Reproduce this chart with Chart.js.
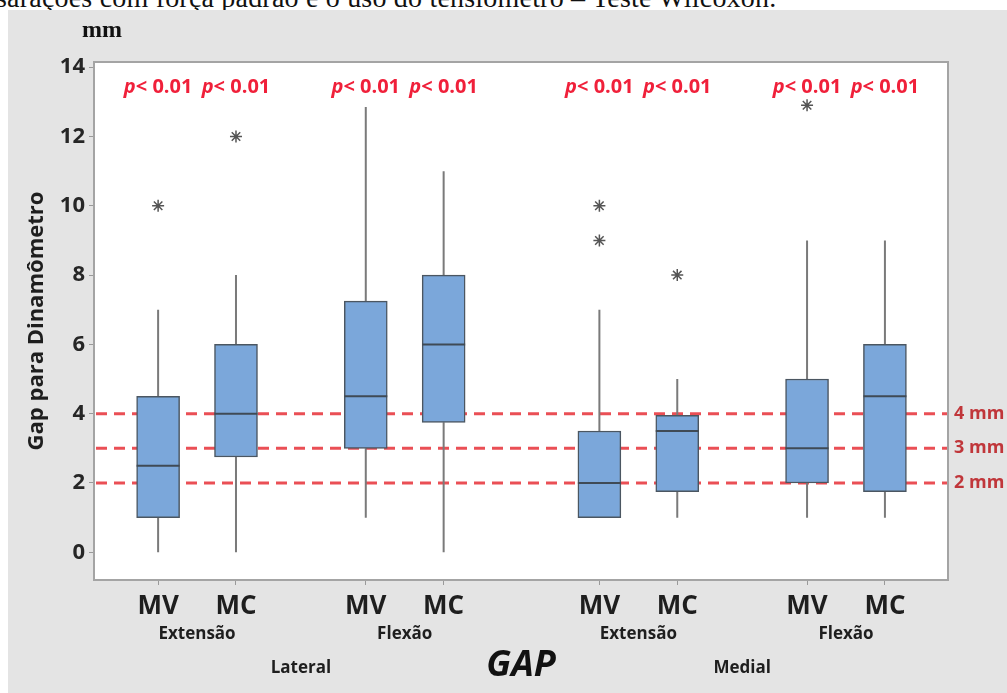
<!DOCTYPE html>
<html>
<head>
<meta charset="utf-8">
<script src="https://cdn.jsdelivr.net/npm/chart.js@4"></script>
<style>
  body { margin: 0; background: #fff; width: 1007px; height: 693px; overflow: hidden; position: relative; }
  #caption { position: absolute; left: -4px; top: -16px; font-family: "Liberation Serif", serif; font-size: 28px; line-height: 28px; white-space: nowrap; color: #111; letter-spacing: 0.2px; }
  #panel { position: absolute; left: 8px; top: 10px; width: 999px; height: 683px; background: #e4e4e4; }
</style>
</head>
<body>
<div id="caption">sarações com força padrão e o uso do tensiômetro – Teste Wilcoxon.</div>
<div id="panel"><canvas id="gap" width="999" height="683"></canvas></div>
<script>
// order: Lateral Extensão MV, MC, Lateral Flexão MV, MC, Medial Extensão MV, MC, Medial Flexão MV, MC
const methods = ["MV", "MC"];
const movements = ["Extensão", "Flexão"];
const sides = ["Lateral", "Medial"];

const whiskerLow = [0, 0, 1, 0, 1, 1, 1, 1];
const q1 = [1, 2.75, 3, 3.75, 1, 1.75, 2, 1.75];
const median = [2.5, 4, 4.5, 6, 2, 3.5, 3, 4.5];
const q3 = [4.5, 6, 7.25, 8, 3.5, 3.95, 5, 6];
const whiskerHigh = [7, 8, 12.85, 11, 7, 5, 9, 9];
const outliers = [[10], [12], [], [], [10, 9], [8], [12.9], []];
const pValues = ["< 0.01", "< 0.01", "< 0.01", "< 0.01", "< 0.01", "< 0.01", "< 0.01", "< 0.01"];

const refLines = [4, 3, 2];
const refLabels = ["4 mm", "3 mm", "2 mm"];
const yTicks = [0, 2, 4, 6, 8, 10, 12, 14];

const FONT = "'Open Sans', 'Noto Sans', sans-serif";
const BOX_W = 43;

// slot on the x axis: side, then movement, then method
const slot = (i) => Math.floor(i / 4) * 17 + (Math.floor(i / 2) % 2) * 8 + (i % 2) * 3;
const nBoxes = q1.length;
const slots = q1.map((_, i) => slot(i));

const boxData = q1.map((v, i) => ({ x: slots[i], y: [v, q3[i]] }));
const outlierData = outliers.flatMap((arr, i) => arr.map((v) => ({ x: slots[i], y: v })));

const boxParts = {
  id: "boxParts",
  beforeDraw(chart) {
    const { ctx, chartArea: a } = chart;
    ctx.save();
    ctx.fillStyle = "#ffffff";
    ctx.fillRect(a.left, a.top, a.right - a.left, a.bottom - a.top);
    ctx.restore();
  },
  beforeDatasetsDraw(chart) {
    const { ctx, chartArea: a, scales } = chart;
    const xs = scales.x, ys = scales.y;
    ctx.save();
    // plot frame
    ctx.strokeStyle = "#a4a4a4";
    ctx.lineWidth = 2;
    ctx.strokeRect(a.left, a.top, a.right - a.left, a.bottom - a.top);
    // reference lines
    ctx.strokeStyle = "rgba(232, 60, 66, 0.9)";
    ctx.lineWidth = 3;
    ctx.setLineDash([11, 7]);
    refLines.forEach((v) => {
      const y = ys.getPixelForValue(v);
      ctx.beginPath();
      ctx.moveTo(a.left + 2, y);
      ctx.lineTo(a.right - 1, y);
      ctx.stroke();
    });
    ctx.setLineDash([]);
    // whiskers
    ctx.strokeStyle = "#7a7a7a";
    ctx.lineWidth = 2;
    for (let i = 0; i < nBoxes; i++) {
      const x = xs.getPixelForValue(slots[i]);
      ctx.beginPath();
      ctx.moveTo(x, ys.getPixelForValue(whiskerLow[i]));
      ctx.lineTo(x, ys.getPixelForValue(q1[i]));
      ctx.moveTo(x, ys.getPixelForValue(q3[i]));
      ctx.lineTo(x, ys.getPixelForValue(whiskerHigh[i]));
      ctx.stroke();
    }
    ctx.restore();
  },
  afterDatasetsDraw(chart) {
    const { ctx, scales } = chart;
    const xs = scales.x, ys = scales.y;
    ctx.save();
    ctx.strokeStyle = "#3f4a55";
    ctx.lineWidth = 2;
    for (let i = 0; i < nBoxes; i++) {
      const x = xs.getPixelForValue(slots[i]);
      const y = ys.getPixelForValue(median[i]);
      ctx.beginPath();
      ctx.moveTo(x - BOX_W / 2, y);
      ctx.lineTo(x + BOX_W / 2, y);
      ctx.stroke();
    }
    ctx.restore();
  },
  afterDraw(chart) {
    const { ctx, chartArea: a, scales } = chart;
    const xs = scales.x, ys = scales.y;
    ctx.save();

    // unit label
    ctx.fillStyle = "#111";
    ctx.font = "bold 24px 'Liberation Serif', serif";
    ctx.textAlign = "center";
    ctx.textBaseline = "middle";
    ctx.fillText("mm", a.left + 8, a.top - 31);

    // p values
    ctx.fillStyle = "#f0203a";
    ctx.textBaseline = "middle";
    ctx.textAlign = "left";
    for (let i = 0; i < nBoxes; i++) {
      const x = xs.getPixelForValue(slots[i]);
      ctx.font = "italic bold 20px " + FONT;
      const wp = ctx.measureText("p").width;
      ctx.font = "bold 20px " + FONT;
      const wr = ctx.measureText(pValues[i]).width;
      const x0 = x - (wp + wr) / 2;
      const y = a.top + 25;
      ctx.font = "italic bold 20px " + FONT;
      ctx.fillText("p", x0, y);
      ctx.font = "bold 20px " + FONT;
      ctx.fillText(pValues[i], x0 + wp, y);
    }

    // reference line labels
    ctx.fillStyle = "#c0363a";
    ctx.font = "bold 18px " + FONT;
    refLines.forEach((v, k) => {
      ctx.fillText(refLabels[k], a.right + 6, ys.getPixelForValue(v));
    });

    // movement and side labels
    ctx.fillStyle = "#1e1e1e";
    ctx.textAlign = "center";
    ctx.font = "bold 17px " + FONT;
    for (let s = 0; s < sides.length; s++) {
      for (let m = 0; m < movements.length; m++) {
        const i0 = s * 4 + m * 2;
        const cx = (xs.getPixelForValue(slots[i0]) + xs.getPixelForValue(slots[i0 + 1])) / 2;
        ctx.fillText(movements[m], cx, a.bottom + 54);
      }
      const c = (xs.getPixelForValue(slots[s * 4]) + xs.getPixelForValue(slots[s * 4 + 3])) / 2;
      ctx.fillText(sides[s], c, a.bottom + 88);
    }
    ctx.restore();
  }
};

new Chart(document.getElementById("gap"), {
  type: "bar",
  plugins: [boxParts],
  data: {
    datasets: [
      {
        type: "bar",
        data: boxData,
        backgroundColor: "#7ba7da",
        borderColor: "#4b5661",
        borderWidth: 1.5,
        borderSkipped: false,
        barThickness: BOX_W,
        order: 2
      },
      {
        type: "scatter",
        data: outlierData,
        pointStyle: "star",
        radius: 6,
        borderColor: "#555",
        borderWidth: 1.5,
        order: 1
      }
    ]
  },
  options: {
    responsive: false,
    devicePixelRatio: 1,
    animation: false,
    layout: { padding: { top: 52, right: 59, left: 0, bottom: 0 } },
    plugins: { legend: { display: false }, tooltip: { enabled: false } },
    scales: {
      x: {
        type: "linear",
        offset: false,
        min: -2.47,
        max: 30.43,
        afterBuildTicks: (axis) => { axis.ticks = slots.map((v) => ({ value: v })); },
        afterFit: (axis) => { axis.height = 113; },
        border: { display: false },
        grid: { offset: false, drawOnChartArea: false, drawTicks: true, tickLength: 5, color: "#999" },
        ticks: {
          autoSkip: false,
          maxRotation: 0,
          padding: 6,
          color: "#1e1e1e",
          font: { family: FONT, size: 26, weight: "bold" },
          callback: (v, i) => methods[i % 2]
        },
        title: {
          display: true,
          text: "GAP",
          color: "#111",
          padding: { top: 0, bottom: 6 },
          font: { family: FONT, size: 36, weight: "bold", style: "italic" }
        }
      },
      y: {
        min: -0.8,
        max: 14.15,
        afterBuildTicks: (axis) => { axis.ticks = yTicks.map((v) => ({ value: v })); },
        afterFit: (axis) => { axis.width = 86; },
        border: { display: false },
        grid: { drawOnChartArea: false, drawTicks: true, tickLength: 5, color: "#999" },
        ticks: {
          padding: 4,
          color: "#262626",
          font: { family: FONT, size: 22, weight: "bold" }
        },
        title: {
          display: true,
          text: "Gap para Dinamômetro",
          color: "#1e1e1e",
          padding: { top: 16, bottom: 0 },
          font: { family: FONT, size: 22, weight: "bold" }
        }
      }
    }
  }
});
</script>
</body>
</html>
